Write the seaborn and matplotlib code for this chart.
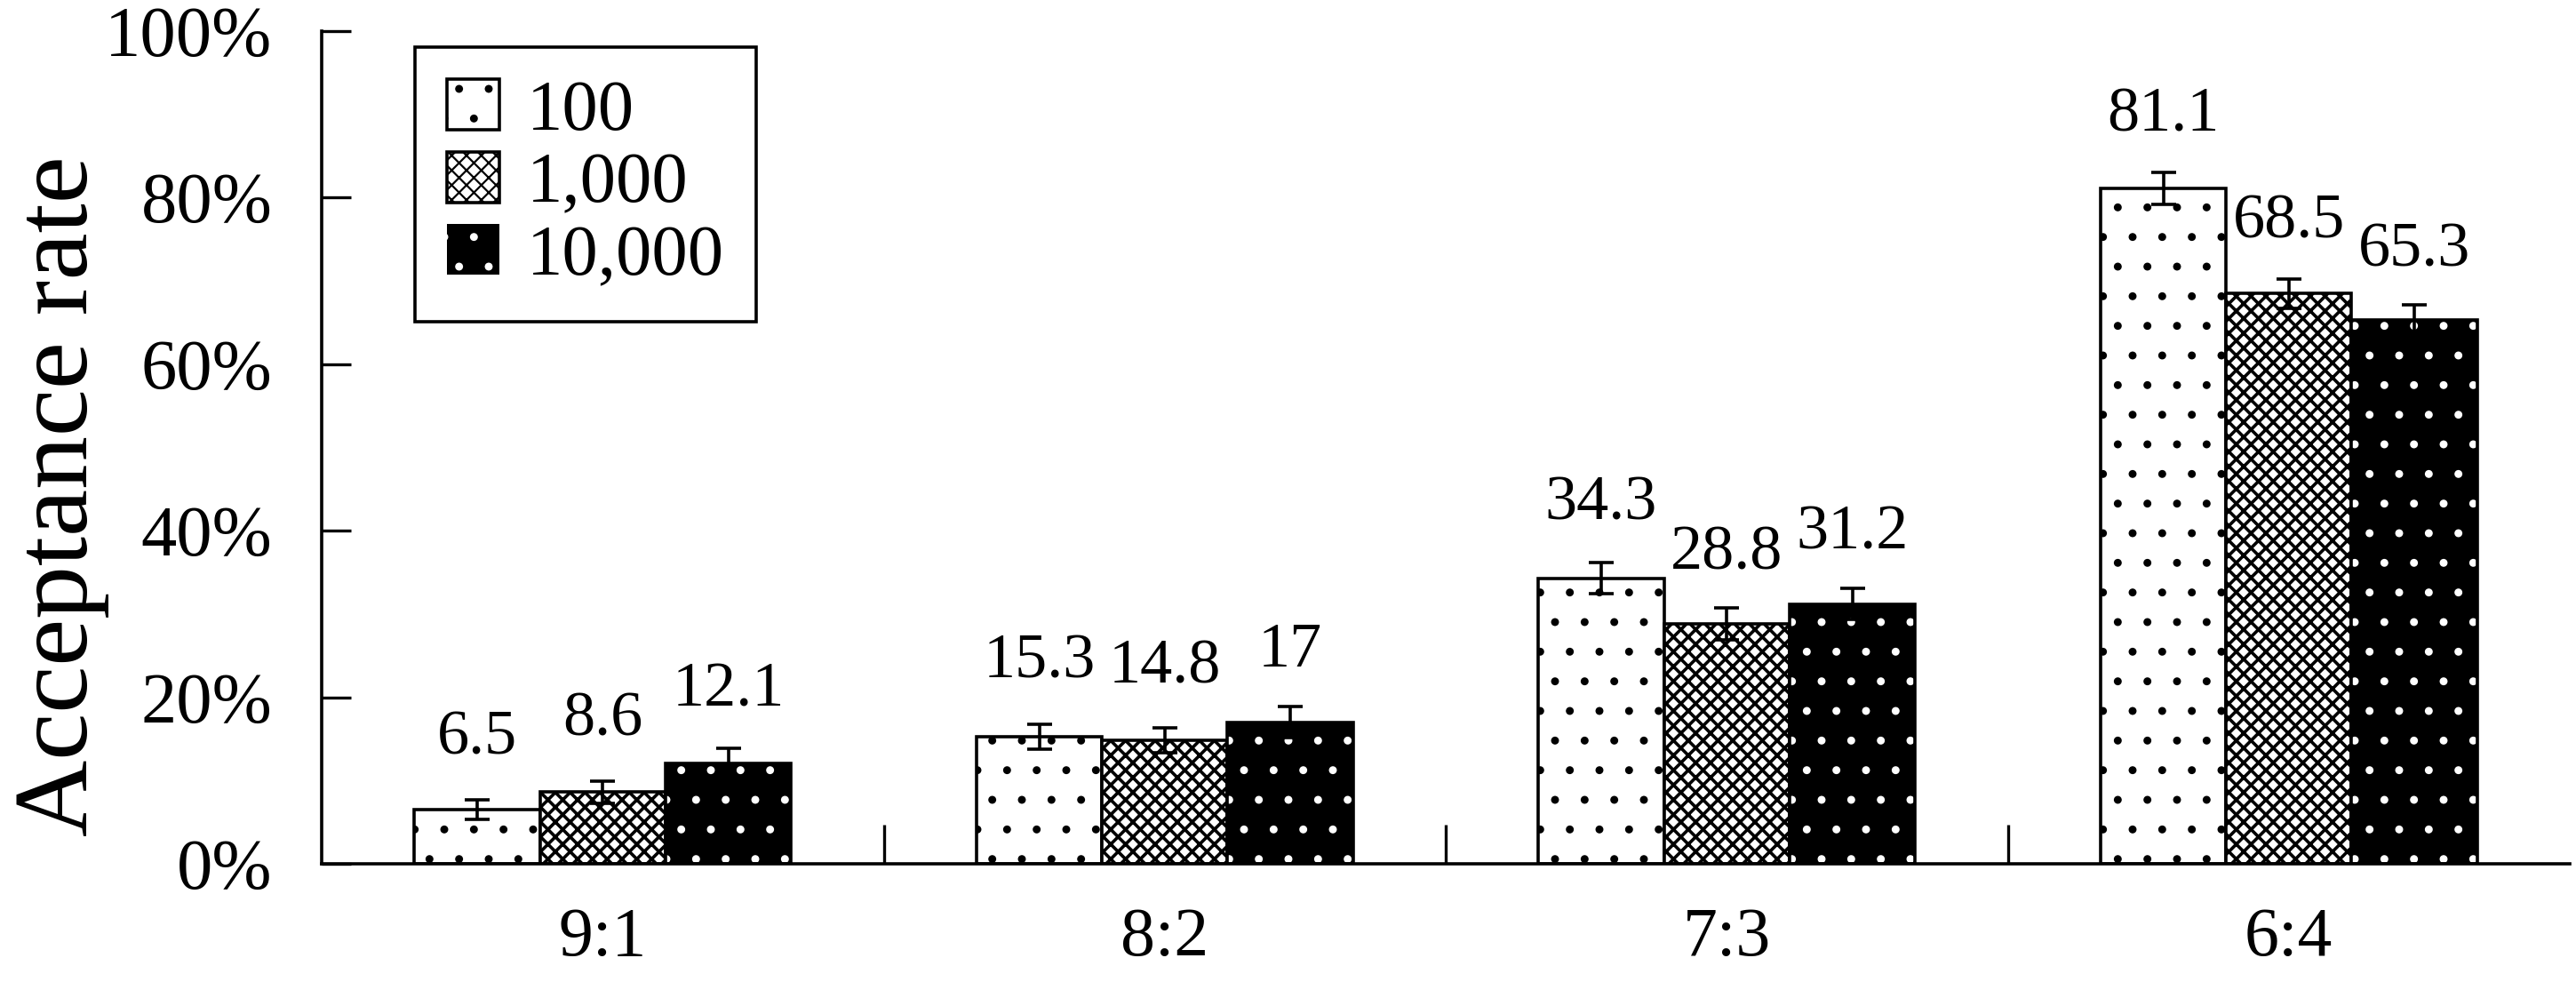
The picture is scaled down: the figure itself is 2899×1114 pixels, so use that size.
import numpy as np
import pandas as pd
import seaborn as sns
import matplotlib.pyplot as plt
from matplotlib.patches import Rectangle
from matplotlib.ticker import FuncFormatter

# data (acceptance rate in %)
ratios = ["9:1", "8:2", "7:3", "6:4"]
sizes = ["100", "1,000", "10,000"]
rate_100 = [6.5, 15.3, 34.3, 81.1]
rate_1000 = [8.6, 14.8, 28.8, 68.5]
rate_10000 = [12.1, 17, 31.2, 65.3]
err_100 = [1.2, 1.5, 1.9, 1.9]
err_1000 = [1.3, 1.5, 1.9, 1.75]
err_10000 = [1.8, 1.9, 1.85, 1.8]

# where the value labels sit (y, in %), they were placed by hand in the original
label_y_100 = [15.0, 24.2, 43.2, 89.9]
label_y_1000 = [17.3, 23.6, 37.2, 77.0]
label_y_10000 = [20.8, 25.6, 39.7, 73.6]

sns.set_theme(style="ticks", rc={
    "axes.edgecolor": "black", "xtick.color": "black", "ytick.color": "black",
    "text.color": "black", "axes.labelcolor": "black",
})
plt.rcParams["font.family"] = ["Liberation Serif", "DejaVu Serif"]
plt.rcParams["hatch.linewidth"] = 0.8

df = pd.DataFrame({
    "ratio": ratios * 3,
    "size": np.repeat(sizes, len(ratios)),
    "rate": rate_100 + rate_1000 + rate_10000,
})

fig = plt.figure(figsize=(14.495, 5.57), dpi=200)
ax = fig.add_axes([0.1249, 0.1275, 0.8727, 0.8411])

sns.barplot(data=df, x="ratio", y="rate", hue="size", order=ratios, hue_order=sizes,
            palette={"100": "white", "1,000": "white", "10,000": "black"},
            saturation=1, width=0.67, gap=0, edgecolor="black", linewidth=1.3,
            errorbar=None, legend=False, ax=ax)

bar_containers = list(ax.containers)
hatches = [".", "xxxx", "."]
for cont, h in zip(bar_containers, hatches):
    for bar in cont:
        bar.set_hatch(h)

# the checker pattern is darker in the original
for bar in bar_containers[1]:
    if hasattr(bar, "set_hatch_linewidth"):
        bar.set_hatch_linewidth(1.3)

# black bars get white dots: hatch colour follows edge colour, so redraw the outline
for bar in bar_containers[2]:
    bar.set_edgecolor("white")
    bar.set_linewidth(0)
    ax.add_patch(Rectangle(bar.get_xy(), bar.get_width(), bar.get_height(),
                           fill=False, edgecolor="black", linewidth=1.3, zorder=bar.get_zorder()))

values = [rate_100, rate_1000, rate_10000]
errors = [err_100, err_1000, err_10000]
label_ys = [label_y_100, label_y_1000, label_y_10000]
for cont, vals, errs, lys in zip(bar_containers, values, errors, label_ys):
    bars = sorted(cont, key=lambda b: b.get_x())
    xs = [b.get_x() + b.get_width() / 2 for b in bars]
    ax.errorbar(xs, vals, yerr=errs, fmt="none", ecolor="black",
                elinewidth=1.3, capsize=5.2, capthick=1.3, zorder=5)
    for x, v, ly in zip(xs, vals, lys):
        ax.text(x, ly, f"{v:g}", ha="center", va="center", fontsize=26)

ax.set_ylim(0, 100)
ax.set_yticks(range(0, 101, 20))
ax.yaxis.set_major_formatter(FuncFormatter(lambda v, p: f"{v:.0f}%"))
ax.set_xlim(-0.5, 3.5)
ax.set_xticks([0.5, 1.5, 2.5], minor=True)
ax.tick_params(axis="x", which="major", length=0, pad=17.6, labelsize=28)
ax.tick_params(axis="x", which="minor", direction="in", length=16, width=1.2)
ax.tick_params(axis="y", direction="in", length=12, width=1.2, pad=20, labelsize=29)
sns.despine(ax=ax)
ax.spines["left"].set_linewidth(1.3)
ax.spines["bottom"].set_linewidth(1.3)

ax.set_xlabel("")
ax.set_ylabel("Acceptance rate", fontsize=43)
ax.yaxis.set_label_coords(-0.0945, 0.442)

leg = ax.legend(bar_containers, sizes, loc="upper left", bbox_to_anchor=(0.0415, 0.981),
                borderaxespad=0, fontsize=29, frameon=True, fancybox=False,
                edgecolor="black", framealpha=1, handlelength=0.73, handleheight=0.71,
                handletextpad=0.38, labelspacing=0.1, borderpad=0.45)
leg.get_frame().set_linewidth(1.3)

fig.savefig("out.png", dpi=200)
plt.close(fig)
